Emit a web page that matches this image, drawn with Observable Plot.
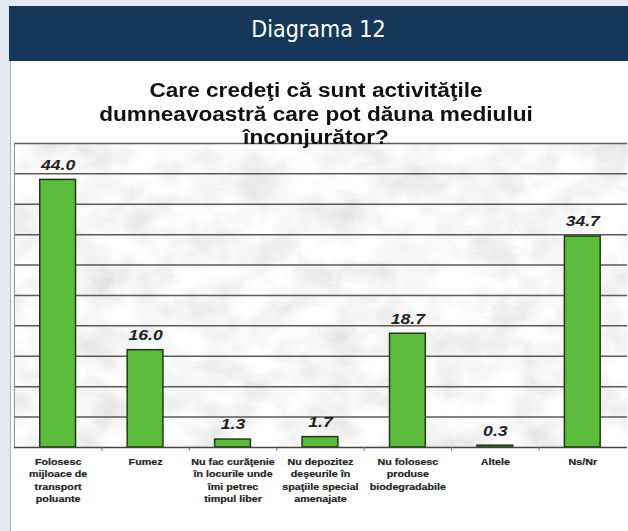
<!DOCTYPE html>
<html>
<head>
<meta charset="utf-8">
<script src="https://cdn.jsdelivr.net/npm/d3@7"></script>
<script src="https://cdn.jsdelivr.net/npm/@observablehq/plot@0.6"></script>
<style>
  html, body { margin: 0; padding: 0; }
  body { width: 628px; height: 531px; background: #e4e9f4; position: relative; overflow: hidden; font-family: "Liberation Sans", Arial, sans-serif; }
  #header { position: absolute; left: 9px; top: 6px; width: 619px; height: 55px; background: #15375a; }
  #header span { position: absolute; left: 0; right: 0; top: 10px; text-align: center; color: #fff; font-family: "DejaVu Sans Condensed", "DejaVu Sans", sans-serif; font-size: 23px; }
  #panel { position: absolute; left: 10px; top: 61px; width: 618px; height: 470px; background: #fff; border-left: 1px solid #a9b0bd; }
  #title { position: absolute; left: 0; width: 632px; top: 79px; text-align: center; font-family: "Liberation Sans", Arial, sans-serif; font-weight: bold; font-size: 19.5px; line-height: 23.5px; color: #111; transform: scaleX(1.16); transform-origin: 316px 0; }
  #chart { position: absolute; left: 0; top: 130px; width: 628px; height: 401px; overflow: hidden; }
</style>
</head>
<body>
<div id="header"><span>Diagrama 12</span></div>
<div id="panel"></div>
<div id="chart"></div>
<div id="title">Care credeţi că sunt activităţile<br>dumneavoastră care pot dăuna mediului<br>înconjurător?</div>
<script>
const categories = [
  "Folosesc\nmijloace de\ntransport\npoluante",
  "Fumez",
  "Nu fac curăţenie\nîn locurile unde\nîmi petrec\ntimpul liber",
  "Nu depozitez\ndeşeurile în\nspaţiile special\namenajate",
  "Nu folosesc\nproduse\nbiodegradabile",
  "Altele",
  "Ns/Nr"
];
const values = [44.0, 16.0, 1.3, 1.7, 18.7, 0.3, 34.7];
const gridTicks = [5, 10, 15, 20, 25, 30, 35, 40, 45, 50];

const data = categories.map((c, i) => ({category: c, value: values[i]}));

// widen text horizontally like the stretched original picture
const stretch = (k) => (index, scales, values, dims, context, next) => {
  const g = next(index, scales, values, dims, context);
  g.querySelectorAll("text").forEach(t => {
    t.setAttribute("transform", (t.getAttribute("transform") || "") + ` scale(${k},1)`);
  });
  return g;
};

const chart = Plot.plot({
  width: 632,
  height: 401,
  marginTop: 13,
  marginBottom: 82,
  marginLeft: 14,
  marginRight: 1,
  style: {background: "transparent", overflow: "visible", fontFamily: "'Liberation Sans', Arial, sans-serif"},
  x: {domain: categories, paddingInner: 0.59, paddingOuter: 0.3, axis: null},
  y: {domain: [0, 50], axis: null},
  marks: [
    Plot.frame({fill: "#e8e8e8", stroke: null}),
    Plot.ruleY(gridTicks, {stroke: "#5a5a5a", strokeWidth: 1.5}),
    Plot.frame({anchor: "left", stroke: "#8a8a8a"}),
    Plot.barY(data, {x: "category", y: "value", fill: "#5cbb3c", stroke: "#1f3a12", strokeWidth: 1.5}),
    Plot.ruleY([0], {stroke: "#444", strokeWidth: 1.5}),
    Plot.ruleX(categories.slice(1), {x: d => d, dx: -44, y1: 0, y2: 0, insetBottom: -4, stroke: "#777"}),
    Plot.text(data, {x: "category", y: "value", text: d => d.value.toFixed(1), dy: -15,
      fontSize: 15, fontWeight: "bold", fontStyle: "italic", fill: "#222", render: stretch(1.18)}),
    Plot.text(data, {x: "category", y: 0, text: "category", lineAnchor: "top", dy: 9,
      fontSize: 9, fontWeight: "bold", fill: "#222", stroke: "#222", strokeWidth: 0.2, lineHeight: 1.37, render: stretch(1.2)})
  ]
});

// marble-like texture for the plot background
const svgNS = "http://www.w3.org/2000/svg";
const defs = document.createElementNS(svgNS, "defs");
defs.innerHTML = `
  <filter id="marble" x="0" y="0" width="100%" height="100%" filterUnits="objectBoundingBox">
    <feTurbulence type="fractalNoise" baseFrequency="0.025 0.03" numOctaves="4" seed="11" result="n"/>
    <feColorMatrix in="n" type="matrix" values="0.40 0 0 0 0.73  0.40 0 0 0 0.73  0.40 0 0 0 0.73  0 0 0 0 1" result="g"/>
    <feComposite in="g" in2="SourceGraphic" operator="in"/>
  </filter>`;
chart.insertBefore(defs, chart.firstChild);
const frame = chart.querySelector('[aria-label="frame"]');
if (frame) frame.setAttribute("filter", "url(#marble)");

document.getElementById("chart").appendChild(chart);
</script>
</body>
</html>
